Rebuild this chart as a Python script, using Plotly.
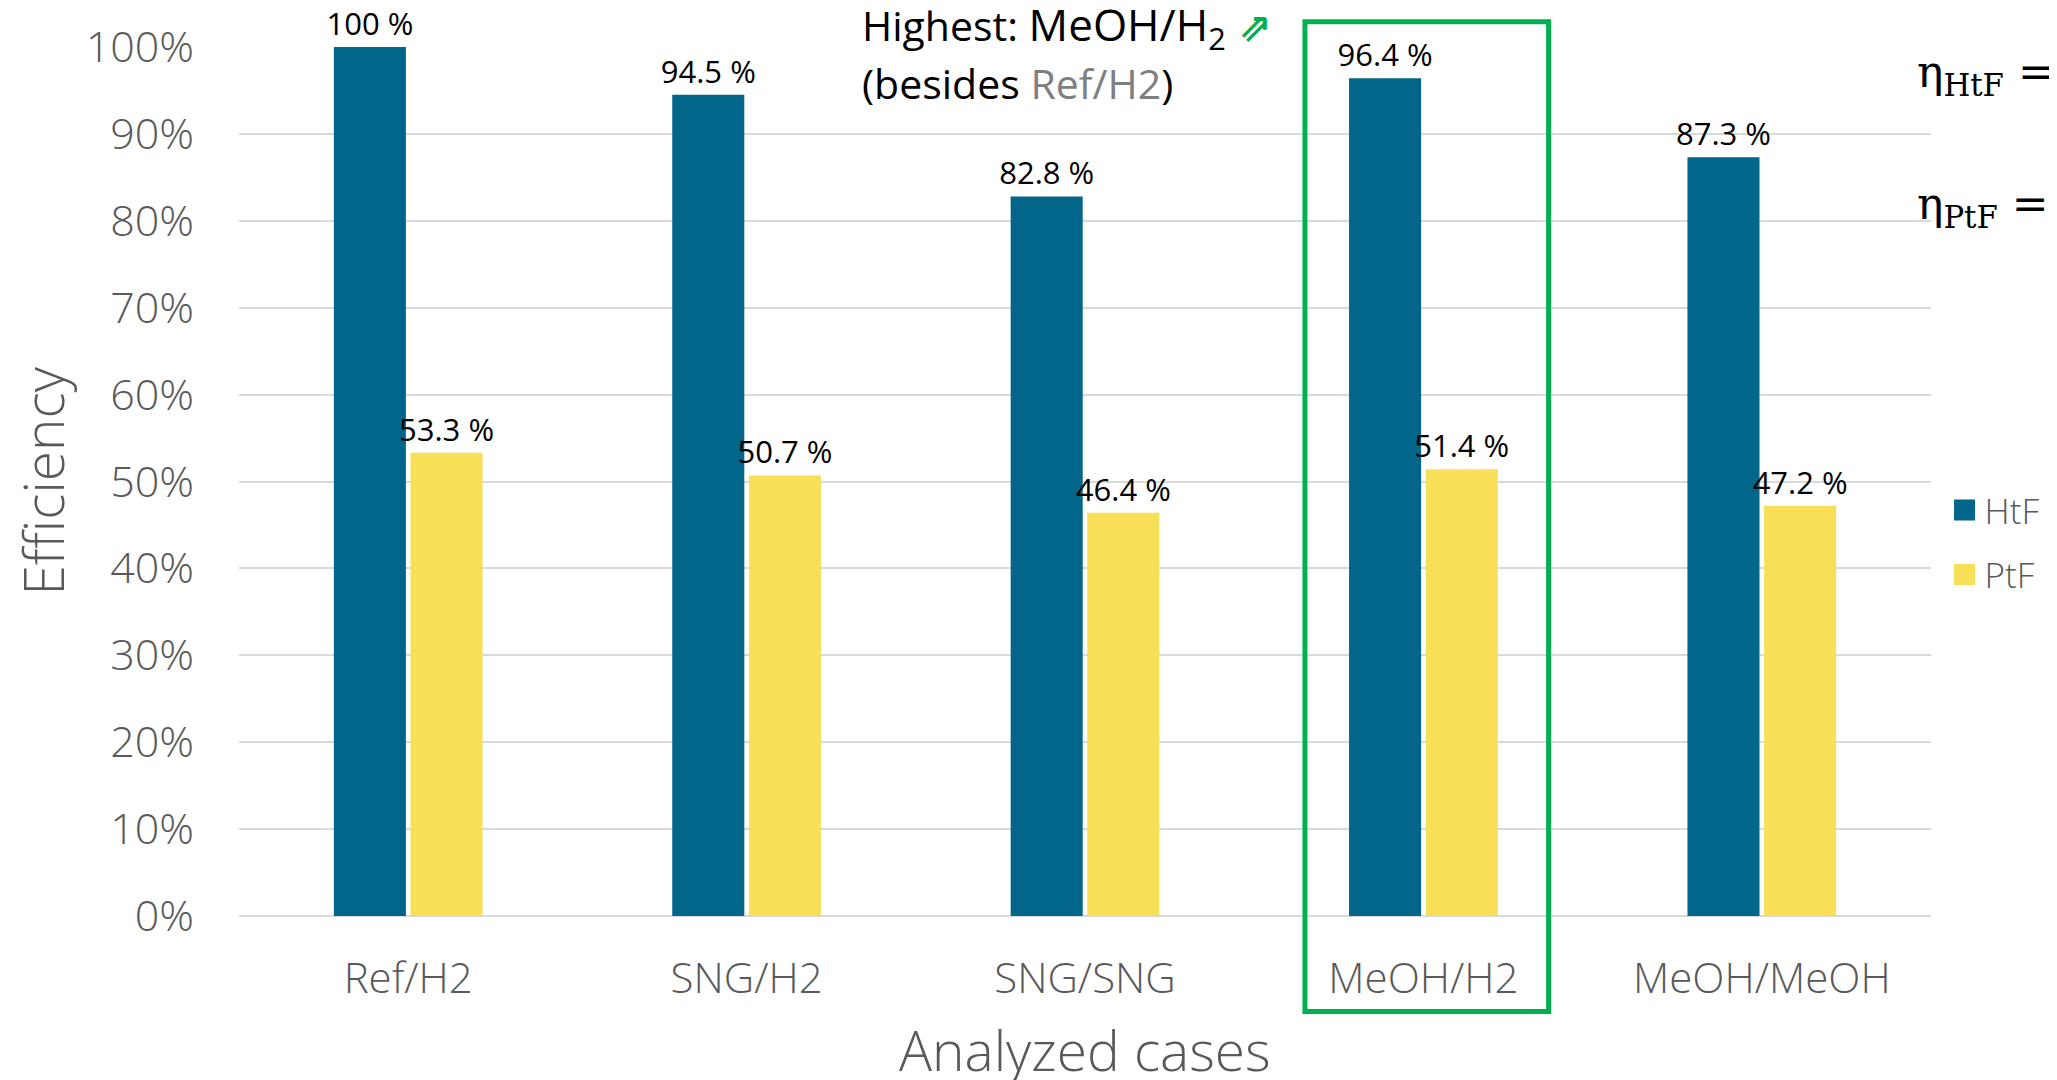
import plotly.graph_objects as go

categories = ["Ref/H2", "SNG/H2", "SNG/SNG", "MeOH/H2", "MeOH/MeOH"]
htf_values = [1.000, 0.945, 0.828, 0.964, 0.873]
ptf_values = [0.533, 0.507, 0.464, 0.514, 0.472]
series_names = ["HtF", "PtF"]
y_tick_values = [0, 0.1, 0.2, 0.3, 0.4, 0.5, 0.6, 0.7, 0.8, 0.9, 1.0]
y_tick_labels = ["0%", "10%", "20%", "30%", "40%", "50%", "60%", "70%", "80%", "90%", "100%"]
x_title = "Analyzed cases"
y_title = "Efficiency"

HTF_COLOR = "#02658A"
PTF_COLOR = "#F7DF57"
GREEN = "#00B050"
GREY_TXT = "#595959"
FONT = "Open Sans"

# the page body has an 8px margin: figure is drawn at (8, 8)
W, H = 2049, 1072
PL, PT, PW, PH = 231, 39, 1692, 869


def label(v):
    return f"{round(v * 100, 1):g} %"


fig = go.Figure()
for name, vals, col in [(series_names[0], htf_values, HTF_COLOR),
                        (series_names[1], ptf_values, PTF_COLOR)]:
    fig.add_trace(go.Bar(
        x=categories, y=vals, name=name, marker_color=col, marker_line_width=0,
        text=[label(v) for v in vals], textposition="outside",
        textfont=dict(family=FONT, size=31, color="#000000"),
        constraintext="none", cliponaxis=False, showlegend=False,
    ))
    # legend entries with larger square symbols
    fig.add_trace(go.Scatter(
        x=[None], y=[None], mode="markers", name=name, legendgroup=name,
        marker=dict(symbol="square", size=16, color=col,
                    line=dict(color=col, width=5)),
    ))

fig.update_layout(
    width=W, height=H,
    margin=dict(l=PL, r=W - PL - PW, t=PT, b=H - PT - PH, autoexpand=False),
    paper_bgcolor="white", plot_bgcolor="white",
    barmode="group", bargap=0.547, bargroupgap=0.06,
    font=dict(family=FONT, color=GREY_TXT),
    legend=dict(x=1.008, y=0.43, xanchor="left", yanchor="middle",
                font=dict(size=35, color=GREY_TXT, weight=300),
                traceorder="grouped", tracegroupgap=16,
                bgcolor="rgba(0,0,0,0)", itemsizing="trace"),
    xaxis=dict(
        categoryorder="array", categoryarray=categories,
        showgrid=False, showline=False, ticks="",
        ticklabelstandoff=34,
        tickfont=dict(size=42, color=GREY_TXT, weight=300),
    ),
    yaxis=dict(
        range=[0, 1.0], tickvals=y_tick_values, ticktext=y_tick_labels,
        showgrid=True, gridcolor="#D9D9D9", gridwidth=2,
        zeroline=True, zerolinecolor="#D9D9D9", zerolinewidth=2,
        showline=False, ticks="", ticklabelstandoff=44,
        tickfont=dict(size=43, color=GREY_TXT, weight=300),
    ),
)

# axis titles
fig.add_annotation(xref="paper", yref="paper", x=0.5, y=-0.154,
                   xanchor="center", yanchor="middle", showarrow=False,
                   text=x_title, font=dict(family=FONT, size=55, color=GREY_TXT, weight=300))
fig.add_annotation(xref="paper", yref="paper", x=-0.1164, y=0.5, textangle=-90,
                   xanchor="center", yanchor="middle", showarrow=False,
                   text=y_title, font=dict(family=FONT, size=55, color=GREY_TXT, weight=300))

# green highlight box around MeOH/H2
fig.add_shape(type="rect", xref="x", yref="paper",
              x0=2.65, x1=3.37, y0=-0.110, y1=1.029,
              line=dict(color=GREEN, width=5), fillcolor="rgba(0,0,0,0)")

fig.add_annotation(
    xref="paper", yref="paper", x=0.367, y=1.024, xanchor="left", yanchor="middle",
    showarrow=False,
    text=("<span style='color:#000000'>Highest: </span>"
          "<span style='color:#000000;font-size:44px'>MeOH/H<sub>2</sub></span>"
          "<span style='color:#00B050;font-family:DejaVu Sans;font-size:40px'> <b>⇗</b></span>"),
    font=dict(family=FONT, size=41, color="#000000"),
)
fig.add_annotation(
    xref="paper", yref="paper", x=0.367, y=0.958, xanchor="left", yanchor="middle",
    showarrow=False,
    text="(besides <span style='color:#7F7F7F'>Ref/H2</span>)",
    font=dict(family=FONT, size=41, color="#000000"),
)

# partially visible efficiency formulas on the right
for txt, yy in [("η<sub>HtF</sub> =", 0.968), ("η<sub>PtF</sub> =", 0.817)]:
    fig.add_annotation(
        xref="paper", yref="paper", x=(1915 - 8 - PL) / PW, y=yy,
        xanchor="left", yanchor="middle", showarrow=False, text=txt,
        font=dict(family="DejaVu Serif", size=44, color="#000000"),
    )

fig.write_html("out.html")
